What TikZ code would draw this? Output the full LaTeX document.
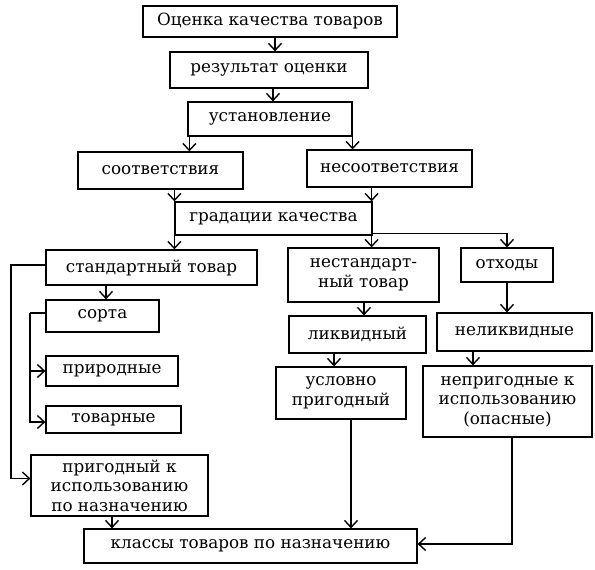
\documentclass[tikz,border=0pt]{standalone}
\usepackage{fontspec}
\setmainfont{DejaVu Serif}
\usetikzlibrary{arrows.meta}
\begin{document}
\begin{tikzpicture}[x=1pt,y=-1pt,
  box/.style={draw,line width=1.2pt,inner sep=0pt,align=center,font=\fontsize{16.8}{19.5}\selectfont},
  conn/.style={line width=1.1pt},
  arr/.style={conn,-{Straight Barb[length=7pt,width=13pt,line width=1.4pt]}}]
\useasboundingbox (0,0) rectangle (595,570);
\fill[white] (0,0) rectangle (595,570);
\node[box,minimum width=254pt,minimum height=31pt] (n1) at (270,21.5) {Оценка качества товаров};
\node[box,minimum width=198pt,minimum height=36pt] (n2) at (269,70) {результат оценки};
\node[box,minimum width=164pt,minimum height=34pt] (n3) at (270,119) {установление};
\node[box,minimum width=165pt,minimum height=37pt] (n4) at (160.5,170.5) {соответствия};
\node[box,minimum width=165pt,minimum height=37pt] (n5) at (389.5,168.5) {несоответствия};
\node[box,minimum width=197pt,minimum height=33pt] (n6) at (273.5,218.5) {градации качества};
\node[box,minimum width=211pt,minimum height=35pt] (n7) at (151.5,267.5) {стандартный товар};
\node[box,minimum width=151pt,minimum height=54pt] (n8) at (363.5,275) {нестандарт-\\ный товар};
\node[box,minimum width=92pt,minimum height=34pt] (n9) at (507,265) {отходы};
\node[box,minimum width=113pt,minimum height=32pt] (n10) at (102.5,316) {сорта};
\node[box,minimum width=132pt,minimum height=30pt] (n11) at (112,371) {природные};
\node[box,minimum width=135pt,minimum height=27pt] (n12) at (113.5,419.5) {товарные};
\node[box,minimum width=177pt,minimum height=61pt] (n13) at (119.5,485.5) {пригодный к\\использованию\\по назначению};
\node[box,minimum width=137pt,minimum height=37pt] (n14) at (357.5,334.5) {ликвидный};
\node[box,minimum width=130pt,minimum height=52pt] (n15) at (341,393) {условно\\пригодный};
\node[box,minimum width=155pt,minimum height=38pt] (n16) at (514.5,332) {неликвидные};
\node[box,minimum width=169pt,minimum height=71pt] (n17) at (507.5,401.5) {непригодные к\\использованию\\(опасные)};
\node[box,minimum width=333pt,minimum height=34pt] (n18) at (250.5,546) {классы товаров по назначению};
% connectors
\draw[arr] ([xshift=5pt]n1.south) -- ([xshift=5pt]n1.south |- n2.north);
\draw[arr] ([xshift=4pt]n2.south) -- ([xshift=4pt]n2.south |- n3.north);
\draw[arr] ([xshift=2pt]n3.south west) -- ([xshift=2pt]n3.south west |- n4.north);
\draw[arr] (n3.south east) -- (n3.south east |- n5.north);
\draw[arr] (n6.north west |- n4.south) -- (n6.north west);
\draw[arr] ([xshift=-1pt]n6.north east |- n5.south) -- ([xshift=-1pt]n6.north east);
\draw[arr] (n6.south west) -- (n6.south west |- n7.north);
\draw[arr] ([xshift=-1pt]n6.south east) -- ([xshift=-1pt]n6.south east |- n8.north);
\draw[arr] ([yshift=2pt]n6.south east) -| (n9.north);
\coordinate (c7) at (11,265);
\draw[arr] ([yshift=2.5pt]n7.west) -| (c7) |- ([yshift=7pt]n13.west);
\draw[arr] ([xshift=3.5pt]n10.north |- n7.south) -- ([xshift=3.5pt]n10.north);
\coordinate (c10) at (30,313);
\draw[conn] ([yshift=3pt]n10.west) -| (c10);
\draw[arr] (c10) |- (n11.west);
\draw[arr] (c10) |- ([yshift=-2.5pt]n12.west);
\draw[arr] ([xshift=-7.5pt]n13.south) -- ([xshift=-7.5pt]n13.south |- n18.north);
\draw[arr] ([xshift=0.5pt]n8.south) -- ([xshift=0.5pt]n8.south |- n14.north);
\draw[arr] ([xshift=-7pt]n15.north |- n14.south) -- ([xshift=-7pt]n15.north);
\draw[arr] ([xshift=10pt]n15.south) -- ([xshift=10pt]n15.south |- n18.north);
\draw[arr] (n9.south) -- (n9.south |- n16.north);
\draw[arr] ([xshift=-41.5pt]n16.south) -- ([xshift=-41.5pt]n16.south |- n17.north);
\draw[arr] ([xshift=4.5pt]n17.south) |- ([yshift=2pt]n18.east);
\end{tikzpicture}
\end{document}
